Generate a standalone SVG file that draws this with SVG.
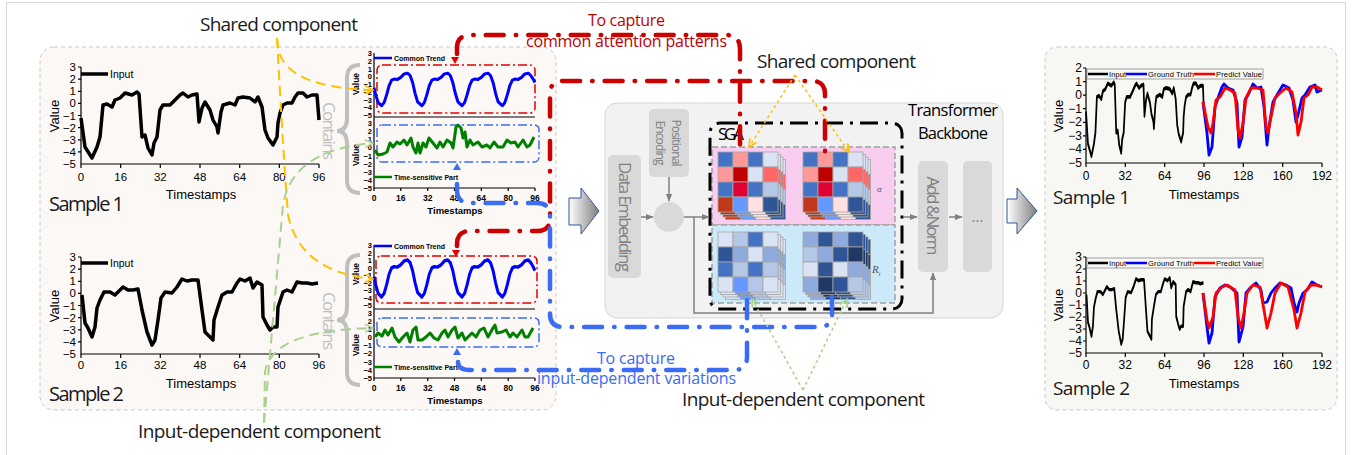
<svg xmlns="http://www.w3.org/2000/svg" xmlns:xlink="http://www.w3.org/1999/xlink" width="1354" height="455" viewBox="0 0 1354 455">
<style>
.lbl{font-family:"Open Sans","Noto Sans",sans-serif}
.ax{font-family:"Liberation Sans",Arial,sans-serif;fill:#000}
.axl{stroke:#000;stroke-width:1.2;fill:none}
.cell{stroke:#a6a6a6;stroke-width:0.8}
.gline{stroke:#808080;stroke-width:1.5;fill:none}
.red{stroke:#cc0000;stroke-width:4.5;fill:none;stroke-dasharray:18 12 0.5 12;stroke-linecap:round}
.blue{stroke:#3a6cf4;stroke-width:4.5;fill:none;stroke-dasharray:18 12 0.5 12;stroke-linecap:round}
.ydash{stroke:#ffc000;stroke-width:2;fill:none;stroke-dasharray:10 6}
.gdash{stroke:#a9d18e;stroke-width:2;fill:none;stroke-dasharray:10 6}
.ydot{stroke:#ffc000;stroke-width:1.5;fill:none;stroke-dasharray:3 3}
.gdot{stroke:#a9d18e;stroke-width:1.5;fill:none;stroke-dasharray:3 3}
.box{fill:#d9d9d9}
.gtxt{fill:#7f7f7f}
</style>
<defs>
<marker id="mg" viewBox="0 0 10 10" refX="9" refY="5" markerWidth="8" markerHeight="8" markerUnits="userSpaceOnUse" orient="auto"><path d="M0,1 L10,5 L0,9 z" fill="#808080"/></marker>
<marker id="my" viewBox="0 0 10 10" refX="9" refY="5" markerWidth="10" markerHeight="10" markerUnits="userSpaceOnUse" orient="auto"><path d="M1,1 L9,5 L1,9" fill="none" stroke="#ffc000" stroke-width="1.6"/></marker>
<marker id="mgr" viewBox="0 0 10 10" refX="9" refY="5" markerWidth="10" markerHeight="10" markerUnits="userSpaceOnUse" orient="auto"><path d="M1,1 L9,5 L1,9" fill="none" stroke="#a9d18e" stroke-width="1.6"/></marker>
<linearGradient id="ga" x1="0" y1="0" x2="1" y2="0"><stop offset="0" stop-color="#ffffff"/><stop offset="1" stop-color="#7f7f7f"/></linearGradient>
<polyline id="inp1" fill="none" stroke="#000" stroke-width="3.5" stroke-linejoin="round" points="81,118 85,147 92,158 97,147 100,137 103,105 107,104 112,107 115,100 120,98 125,93 132,95 137,92 139,94 142,137 145,135 148,148 152,155 154,143 157,137 160,110 163,105 170,105 175,100 180,95 183,93 188,97 192,95 197,94 199,122 202,108 205,102 210,110 213,120 217,127 218,133 221,112 223,105 230,103 235,105 238,98 243,97 250,98 255,102 258,97 262,107 265,130 268,138 273,145 277,137 278,123 280,113 283,105 287,103 292,103 295,97 298,93 303,93 307,97 312,95 317,95 319,120"/>
<polyline id="inp2" fill="none" stroke="#000" stroke-width="3.5" stroke-linejoin="round" points="82,295 85,323 88,328 92,337 95,327 97,308 100,300 104,292 110,292 115,295 118,292 123,287 128,290 133,290 138,289 142,310 147,332 152,345 155,340 158,320 161,298 165,292 172,293 177,287 182,279 187,281 192,280 198,280 202,310 205,332 208,335 213,340 214,320 218,307 222,295 227,292 232,292 237,283 240,279 245,281 250,278 253,288 257,282 262,285 263,317 267,325 270,330 273,327 277,327 278,307 283,292 287,290 292,292 297,282 302,283 307,283 312,284 318,283"/>
<polyline id="ct" fill="none" stroke="#0000ff" stroke-width="3" stroke-linejoin="round" points="374,87.9 375.7,94.9 378.2,102.6 381.5,105.7 384.1,102.6 386.6,94.9 389.1,85.6 391.6,80.1 394.1,79 397.5,79.4 400.8,77.4 404.2,73.9 407.5,73.2 410.1,75.5 412.6,82.5 415.1,93.3 417.6,101.8 421.8,105.7 424.3,102.6 426.8,94.9 429.3,85.6 431.9,80.1 434.4,79 437.7,79.4 441.1,77.4 444.4,73.9 447.8,73.2 450.3,75.5 452.8,82.5 455.3,93.3 457.9,101.8 462,105.7 464.6,102.6 467.1,94.9 469.6,85.6 472.1,80.1 474.6,79 478,79.4 481.3,77.4 484.7,73.9 488,73.2 490.5,75.5 493.1,82.5 495.6,93.3 498.1,101.8 502.3,105.7 504.8,102.6 507.3,94.9 509.8,85.6 512.4,80.1 514.9,79 518.2,79.4 521.6,77.4 524.9,73.9 528.3,73.2 530.8,75.5 533.3,79.4 535,82.5"/>
<g id="m1">
<rect class="cell" x="0" y="0" width="15" height="15" fill="#4472c4"/><rect class="cell" x="15" y="0" width="15" height="15" fill="#ff9999"/><rect class="cell" x="30" y="0" width="15" height="15" fill="#4472c4"/><rect class="cell" x="45" y="0" width="15" height="15" fill="#dae3f3"/>
<rect class="cell" x="0" y="15" width="15" height="15" fill="#ff9999"/><rect class="cell" x="15" y="15" width="15" height="15" fill="#c00000"/><rect class="cell" x="30" y="15" width="15" height="15" fill="#dae3f3"/><rect class="cell" x="45" y="15" width="15" height="15" fill="#ff6666"/>
<rect class="cell" x="0" y="30" width="15" height="15" fill="#4472c4"/><rect class="cell" x="15" y="30" width="15" height="15" fill="#e00034"/><rect class="cell" x="30" y="30" width="15" height="15" fill="#4472c4"/><rect class="cell" x="45" y="30" width="15" height="15" fill="#b4c7e7"/>
<rect class="cell" x="0" y="45" width="15" height="15" fill="#c0391b"/><rect class="cell" x="15" y="45" width="15" height="15" fill="#6699ff"/><rect class="cell" x="30" y="45" width="15" height="15" fill="#ffe1e1"/><rect class="cell" x="45" y="45" width="15" height="15" fill="#2f5597"/>
</g>
<g id="m3">
<rect class="cell" x="0" y="0" width="15" height="15" fill="#dae3f3"/><rect class="cell" x="15" y="0" width="15" height="15" fill="#b4c7e7"/><rect class="cell" x="30" y="0" width="15" height="15" fill="#4472c4"/><rect class="cell" x="45" y="0" width="15" height="15" fill="#dae3f3"/>
<rect class="cell" x="0" y="15" width="15" height="15" fill="#2f5597"/><rect class="cell" x="15" y="15" width="15" height="15" fill="#8faadc"/><rect class="cell" x="30" y="15" width="15" height="15" fill="#dae3f3"/><rect class="cell" x="45" y="15" width="15" height="15" fill="#8faadc"/>
<rect class="cell" x="0" y="30" width="15" height="15" fill="#4472c4"/><rect class="cell" x="15" y="30" width="15" height="15" fill="#b4c7e7"/><rect class="cell" x="30" y="30" width="15" height="15" fill="#4472c4"/><rect class="cell" x="45" y="30" width="15" height="15" fill="#b4c7e7"/>
<rect class="cell" x="0" y="45" width="15" height="15" fill="#dae3f3"/><rect class="cell" x="15" y="45" width="15" height="15" fill="#6699ff"/><rect class="cell" x="30" y="45" width="15" height="15" fill="#b4c7e7"/><rect class="cell" x="45" y="45" width="15" height="15" fill="#dae3f3"/>
</g>
<g id="m4">
<rect class="cell" x="0" y="0" width="15" height="15" fill="#8faadc"/><rect class="cell" x="15" y="0" width="15" height="15" fill="#2f5597"/><rect class="cell" x="30" y="0" width="15" height="15" fill="#8faadc"/><rect class="cell" x="45" y="0" width="15" height="15" fill="#2f5597"/>
<rect class="cell" x="0" y="15" width="15" height="15" fill="#b4c7e7"/><rect class="cell" x="15" y="15" width="15" height="15" fill="#8faadc"/><rect class="cell" x="30" y="15" width="15" height="15" fill="#2f5597"/><rect class="cell" x="45" y="15" width="15" height="15" fill="#1f3864"/>
<rect class="cell" x="0" y="30" width="15" height="15" fill="#dae3f3"/><rect class="cell" x="15" y="30" width="15" height="15" fill="#2f5597"/><rect class="cell" x="30" y="30" width="15" height="15" fill="#dae3f3"/><rect class="cell" x="45" y="30" width="15" height="15" fill="#8faadc"/>
<rect class="cell" x="0" y="45" width="15" height="15" fill="#8faadc"/><rect class="cell" x="15" y="45" width="15" height="15" fill="#1f3864"/><rect class="cell" x="30" y="45" width="15" height="15" fill="#2f5597"/><rect class="cell" x="45" y="45" width="15" height="15" fill="#b4c7e7"/>
</g>
</defs>

<rect width="1354" height="455" fill="#ffffff"/>
<path d="M6.5,460 V2.5 H1345.5 V460" fill="none" stroke="#d9d9d9" stroke-width="1"/>

<!-- left panel -->
<g id="panel-left">
<rect x="40" y="47" width="516" height="363" rx="14" fill="#fcf8f6" stroke="#c8c8c8" stroke-width="1" stroke-dasharray="4 3"/>
</g>

<!-- left chart 1 -->
<g id="chart-sample1-input">
<path class="axl" d="M81,67 V164 H319"/>
<path class="axl" d="M78,67H81M78,79.1H81M78,91.3H81M78,103.4H81M78,115.5H81M78,127.6H81M78,139.8H81M78,151.9H81M81,164V168M120.7,164V168M160.3,164V168M200,164V168M239.7,164V168M279.3,164V168M319,164V168"/>
<g class="ax" font-size="11.5" text-anchor="end">
<text x="76" y="71">3</text><text x="76" y="83.1">2</text><text x="76" y="95.3">1</text><text x="76" y="107.4">0</text><text x="76" y="119.5">−1</text><text x="76" y="131.6">−2</text><text x="76" y="143.8">−3</text><text x="76" y="155.9">−4</text><text x="76" y="168">−5</text>
</g>
<g class="ax" font-size="11.5" text-anchor="middle">
<text x="81" y="181">0</text><text x="120.7" y="181">16</text><text x="160.3" y="181">32</text><text x="200" y="181">48</text><text x="239.7" y="181">64</text><text x="279.3" y="181">80</text><text x="319" y="181">96</text>
<text x="201" y="199" font-size="13">Timestamps</text>
<text transform="translate(58.5,116) rotate(-90)" font-size="13">Value</text>
</g>
<line x1="81" y1="74" x2="108" y2="74" stroke="#000" stroke-width="3.5"/>
<text class="ax" x="110" y="78" font-size="10.5">Input</text>
<use xlink:href="#inp1"/>
</g>

<!-- left chart 2 -->
<g id="chart-sample2-input">
<path class="axl" d="M81,257 V354 H319"/>
<path class="axl" d="M78,257H81M78,269.1H81M78,281.3H81M78,293.4H81M78,305.5H81M78,317.6H81M78,329.8H81M78,341.9H81M81,354V358M120.7,354V358M160.3,354V358M200,354V358M239.7,354V358M279.3,354V358M319,354V358"/>
<g class="ax" font-size="11.5" text-anchor="end">
<text x="76" y="261">3</text><text x="76" y="273.1">2</text><text x="76" y="285.3">1</text><text x="76" y="297.4">0</text><text x="76" y="309.5">−1</text><text x="76" y="321.6">−2</text><text x="76" y="333.8">−3</text><text x="76" y="345.9">−4</text><text x="76" y="358">−5</text>
</g>
<g class="ax" font-size="11.5" text-anchor="middle">
<text x="81" y="369">0</text><text x="120.7" y="369">16</text><text x="160.3" y="369">32</text><text x="200" y="369">48</text><text x="239.7" y="369">64</text><text x="279.3" y="369">80</text><text x="319" y="369">96</text>
<text x="201" y="388" font-size="13">Timestamps</text>
<text transform="translate(58.5,306) rotate(-90)" font-size="13">Value</text>
</g>
<line x1="81" y1="263" x2="108" y2="263" stroke="#000" stroke-width="3.5"/>
<text class="ax" x="110" y="267" font-size="10.5">Input</text>
<use xlink:href="#inp2"/>
</g>

<!-- middle chart 1 -->
<g id="chart-decomp1">
<path class="axl" d="M374,53 V188 H535 M374,117 H535"/>
<path class="axl" d="M374,188V191M400.8,188V191M427.7,188V191M454.5,188V191M481.3,188V191M508.2,188V191M535,188V191"/>
<g class="ax" font-size="7.5" font-weight="bold" text-anchor="end">
<text x="372" y="56">3</text><text x="372" y="63.8">2</text><text x="372" y="71.5">1</text><text x="372" y="79.3">0</text><text x="372" y="87">−1</text><text x="372" y="94.8">−2</text><text x="372" y="102.5">−3</text><text x="372" y="110.3">−4</text><text x="372" y="117.5">−5</text>
<text x="372" y="126">3</text><text x="372" y="134.1">2</text><text x="372" y="142.3">1</text><text x="372" y="150.4">0</text><text x="372" y="158.5">−1</text><text x="372" y="166.6">−2</text><text x="372" y="174.8">−3</text><text x="372" y="182.9">−4</text><text x="372" y="191">−5</text>
</g>
<g class="ax" font-size="8.5" font-weight="bold" text-anchor="middle">
<text x="374" y="201">0</text><text x="400.8" y="201">16</text><text x="427.7" y="201">32</text><text x="454.5" y="201">48</text><text x="481.3" y="201">64</text><text x="508.2" y="201">80</text><text x="535" y="201">96</text>
<text x="455" y="214" font-size="9.5">Timestamps</text>
<text transform="translate(359,84) rotate(-90)" font-size="8.5">Value</text>
<text transform="translate(359,155) rotate(-90)" font-size="8.5">Value</text>
</g>
<line x1="374" y1="58" x2="392" y2="58" stroke="#0000ff" stroke-width="2.5"/>
<text class="ax" x="394" y="60.5" font-size="7" font-weight="bold" textLength="51">Common Trend</text>
<line x1="374" y1="177" x2="392" y2="177" stroke="#008000" stroke-width="2.5"/>
<text class="ax" x="394" y="179.5" font-size="7" font-weight="bold" textLength="64">Time-sensitive Part</text>
<rect x="377" y="65" width="158" height="48" rx="5" fill="none" stroke="#dd0000" stroke-width="1.5" stroke-dasharray="9 3 2 3"/>
<rect x="377" y="125" width="162" height="37" rx="5" fill="none" stroke="#3a6cf4" stroke-width="1.5" stroke-dasharray="9 3 2 3"/>
<polygon points="451,57 459,57 455,64" fill="#dd0000"/>
<polygon points="453,170 461,170 457,163" fill="#3a6cf4"/>
<use xlink:href="#ct"/>
<polyline fill="none" stroke="#008000" stroke-width="3" stroke-linejoin="round" points="375,150 378,155 383,154 387,152 390,143 393,147 397,142 400,144 404,140 407,145 411,138 413,147 416,153 418,143 420,153 423,143 426,147 429,138 433,143 437,148 440,142 443,147 447,140 451,143 453,148 456,127 458,125 461,128 463,138 465,132 467,147 470,140 473,145 478,142 482,147 487,145 490,148 494,142 498,147 503,147 507,140 511,143 515,142 518,147 523,140 527,147 530,145 534,137"/>
</g>

<!-- middle chart 2 -->
<g id="chart-decomp2">
<path class="axl" d="M374,245 V378 H535 M374,309 H535"/>
<path class="axl" d="M374,378V381M400.8,378V381M427.7,378V381M454.5,378V381M481.3,378V381M508.2,378V381M535,378V381"/>
<g class="ax" font-size="7.5" font-weight="bold" text-anchor="end">
<text x="372" y="248">3</text><text x="372" y="255.5">2</text><text x="372" y="263">1</text><text x="372" y="270.5">0</text><text x="372" y="278">−1</text><text x="372" y="285.5">−2</text><text x="372" y="293">−3</text><text x="372" y="300.5">−4</text><text x="372" y="307.5">−5</text>
<text x="372" y="316">3</text><text x="372" y="324">2</text><text x="372" y="332">1</text><text x="372" y="340">0</text><text x="372" y="348">−1</text><text x="372" y="356">−2</text><text x="372" y="364.5">−3</text><text x="372" y="372.8">−4</text><text x="372" y="381">−5</text>
</g>
<g class="ax" font-size="8.5" font-weight="bold" text-anchor="middle">
<text x="374" y="391">0</text><text x="400.8" y="391">16</text><text x="427.7" y="391">32</text><text x="454.5" y="391">48</text><text x="481.3" y="391">64</text><text x="508.2" y="391">80</text><text x="535" y="391">96</text>
<text x="455" y="404" font-size="9.5">Timestamps</text>
<text transform="translate(359,274) rotate(-90)" font-size="8.5">Value</text>
<text transform="translate(359,345) rotate(-90)" font-size="8.5">Value</text>
</g>
<line x1="374" y1="246" x2="392" y2="246" stroke="#0000ff" stroke-width="2.5"/>
<text class="ax" x="394" y="248.5" font-size="7" font-weight="bold" textLength="51">Common Trend</text>
<line x1="374" y1="367" x2="392" y2="367" stroke="#008000" stroke-width="2.5"/>
<text class="ax" x="394" y="369.5" font-size="7" font-weight="bold" textLength="64">Time-sensitive Part</text>
<rect x="376" y="256" width="161" height="47" rx="5" fill="none" stroke="#dd0000" stroke-width="1.5" stroke-dasharray="9 3 2 3"/>
<rect x="377" y="318" width="162" height="29" rx="5" fill="none" stroke="#3a6cf4" stroke-width="1.5" stroke-dasharray="9 3 2 3"/>
<polygon points="452,250 460,250 456,257" fill="#dd0000"/>
<polygon points="453,355 461,355 457,348" fill="#3a6cf4"/>
<use xlink:href="#ct" transform="matrix(1,0,0,1.137,0,176.8)" style="vector-effect:non-scaling-stroke"/>
<polyline fill="none" stroke="#008000" stroke-width="3" stroke-linejoin="round" points="375,337 378,333 382,336 385,330 388,335 392,328 395,337 399,342 403,337 407,333 410,342 413,330 416,327 418,340 422,340 426,337 430,333 434,338 438,340 442,333 445,330 448,337 452,330 455,327 458,338 462,333 465,340 468,337 472,333 476,337 480,330 484,328 488,337 493,328 495,325 497,333 502,332 506,330 510,337 513,333 517,337 522,330 525,337 528,337 533,328"/>
</g>

<!-- braces -->
<g id="contains-1">
<path d="M360,65 Q347,65 347,78 V118 Q347,131 337,131 Q347,131 347,144 V180 Q347,193 360,193" fill="none" stroke="#bfbfbf" stroke-width="4"/>
<text class="lbl" transform="translate(323,131) rotate(90)" font-size="17" fill="#bfbfbf" text-anchor="middle" textLength="58">Contains</text>
</g>
<g id="contains-2">
<path d="M360,255 Q347,255 347,268 V307 Q347,320 337,320 Q347,320 347,333 V372 Q347,385 360,385" fill="none" stroke="#bfbfbf" stroke-width="4"/>
<text class="lbl" transform="translate(323,321) rotate(90)" font-size="17" fill="#bfbfbf" text-anchor="middle" textLength="58">Contains</text>
</g>

<!-- transformer backbone -->
<g id="transformer-backbone">
<rect x="605" y="103" width="398" height="215" rx="12" fill="#f2f2f2" stroke="#d6d6d6" stroke-width="1"/>
<text class="lbl" x="908" y="116" font-size="16.5" fill="#000" textLength="90">Transformer</text>
<text class="lbl" x="918" y="139" font-size="16.5" fill="#000" textLength="70">Backbone</text>
</g>
<g id="data-embedding">
<rect class="box" x="608" y="155" width="33" height="123" rx="5"/>
<text class="lbl gtxt" transform="translate(619,217) rotate(90)" font-size="17" text-anchor="middle" textLength="110">Data Embedding</text>
</g>
<g id="positional-encoding">
<rect class="box" x="649" y="109" width="40" height="68" rx="5"/>
<text class="lbl gtxt" transform="translate(672,143) rotate(90)" font-size="12" text-anchor="middle" textLength="47">Positional</text>
<text class="lbl gtxt" transform="translate(656,143) rotate(90)" font-size="12" text-anchor="middle" textLength="45">Encoding</text>
</g>
<g id="sum-node">
<circle cx="669" cy="217" r="15" fill="#d9d9d9"/>
</g>
<g id="sga">
<rect x="712" y="147" width="183" height="78" fill="#f8cdef" stroke="#a0a0a0" stroke-width="1.5" stroke-dasharray="6 3"/>
<rect x="712" y="225" width="183" height="78" fill="#cce9f9" stroke="#a0a0a0" stroke-width="1.5" stroke-dasharray="6 3"/>
<use xlink:href="#m1" x="725.5" y="159.5"/><use xlink:href="#m1" x="723" y="157"/><use xlink:href="#m1" x="720.5" y="154.5"/><use xlink:href="#m1" x="718" y="152"/>
<use xlink:href="#m1" x="810.5" y="159.5"/><use xlink:href="#m1" x="808" y="157"/><use xlink:href="#m1" x="805.5" y="154.5"/><use xlink:href="#m1" x="803" y="152"/>
<use xlink:href="#m3" x="725.5" y="239.5"/><use xlink:href="#m3" x="723" y="237"/><use xlink:href="#m3" x="720.5" y="234.5"/><use xlink:href="#m3" x="718" y="232"/>
<use xlink:href="#m4" x="810.5" y="239.5"/><use xlink:href="#m4" x="808" y="237"/><use xlink:href="#m4" x="805.5" y="234.5"/><use xlink:href="#m4" x="803" y="232"/>
<text x="877" y="192" font-family="'Liberation Serif',serif" font-style="italic" font-size="9" fill="#555">α</text>
<text x="872" y="273" font-family="'Liberation Serif',serif" font-style="italic" font-size="11" fill="#555">R<tspan font-size="6" dy="3">t</tspan></text>
<rect x="710" y="123" width="192" height="186" rx="10" fill="none" stroke="#000" stroke-width="3" stroke-dasharray="18 7 3 7"/>
<text class="lbl" x="718" y="140" font-size="17" fill="#000" textLength="26">SGA</text>
</g>
<g id="add-norm">
<rect class="box" x="918" y="161" width="30" height="111" rx="5"/>
<text class="lbl gtxt" transform="translate(927,216) rotate(90)" font-size="17" text-anchor="middle" textLength="79">Add &amp;Norm</text>
</g>
<g id="more-layers">
<rect class="box" x="963" y="161" width="29" height="111" rx="5"/>
<text class="lbl gtxt" x="977.5" y="222" font-size="15" text-anchor="middle">...</text>
</g>

<!-- right panel -->
<g id="panel-right">
<rect x="1045" y="47" width="292" height="363" rx="12" fill="#f7f8f4" stroke="#c8c8c8" stroke-width="1" stroke-dasharray="4 3"/>
</g>
<g id="chart-forecast1">
<path class="axl" d="M1086,68 V163 H1322"/>
<path class="axl" d="M1083,68H1086M1083,81.6H1086M1083,95.1H1086M1083,108.7H1086M1083,122.3H1086M1083,135.9H1086M1083,149.4H1086M1086,163V167M1125.3,163V167M1164.7,163V167M1204,163V167M1243.3,163V167M1282.7,163V167M1322,163V167"/>
<g class="ax" font-size="12" text-anchor="end">
<text x="1082" y="72">2</text><text x="1082" y="85.6">1</text><text x="1082" y="99.1">0</text><text x="1082" y="112.7">−1</text><text x="1082" y="126.3">−2</text><text x="1082" y="139.9">−3</text><text x="1082" y="153.4">−4</text><text x="1082" y="167">−5</text>
</g>
<g class="ax" font-size="12" text-anchor="middle">
<text x="1086" y="180">0</text><text x="1125.3" y="180">32</text><text x="1164.7" y="180">64</text><text x="1204" y="180">96</text><text x="1243.3" y="180">128</text><text x="1282.7" y="180">160</text><text x="1322" y="180">192</text>
<text x="1204" y="199" font-size="13">Timestamps</text>
<text transform="translate(1062.5,116) rotate(-90)" font-size="13">Value</text>
</g>
<use xlink:href="#inp1" transform="matrix(0.4956,0,0,1.119,1045.86,-20.6)" style="vector-effect:non-scaling-stroke"/>
<polyline fill="none" stroke="#0000ff" stroke-width="2.8" stroke-linejoin="round" points="1203,102 1207,133 1209,155 1212,147 1215,107 1218,98 1222,87 1224,84 1228,88 1233,90 1237,103 1239,147 1242,137 1245,100 1248,95 1253,84 1257,88 1261,87 1264,107 1267,145 1269,127 1273,102 1277,95 1283,85 1289,88 1293,100 1296,122 1298,115 1302,98 1305,95 1310,87 1315,85 1317,92 1322,90"/>
<polyline fill="none" stroke="#ff0000" stroke-width="2.8" stroke-linejoin="round" points="1203,102 1208,127 1211,133 1213,123 1216,100 1220,97 1225,88 1230,90 1235,93 1238,130 1240,138 1243,123 1246,98 1251,88 1257,88 1263,90 1266,127 1268,133 1271,117 1275,98 1280,93 1286,88 1292,92 1296,113 1298,135 1301,122 1304,98 1308,95 1312,87 1317,87 1322,90"/>
<rect x="1087" y="69" width="176" height="10" fill="#f7f8f4" stroke="#8c8c8c" stroke-width="0.8"/>
<line x1="1088" y1="74" x2="1108" y2="74" stroke="#000" stroke-width="2.5"/>
<line x1="1126" y1="74" x2="1147" y2="74" stroke="#0000ff" stroke-width="2.5"/>
<line x1="1194" y1="74" x2="1215" y2="74" stroke="#ff0000" stroke-width="2.5"/>
<g class="ax" font-size="7.5"><text x="1109" y="76.7" textLength="17">Input</text><text x="1148" y="76.7" textLength="46">Ground Truth</text><text x="1216" y="76.7" textLength="46">Predict Value</text></g>
</g>
<g id="chart-forecast2">
<path class="axl" d="M1086,257 V353 H1322"/>
<path class="axl" d="M1083,257H1086M1083,269H1086M1083,281H1086M1083,293H1086M1083,305H1086M1083,317H1086M1083,329H1086M1083,341H1086M1086,353V357M1125.3,353V357M1164.7,353V357M1204,353V357M1243.3,353V357M1282.7,353V357M1322,353V357"/>
<g class="ax" font-size="12" text-anchor="end">
<text x="1082" y="261">3</text><text x="1082" y="273">2</text><text x="1082" y="285">1</text><text x="1082" y="297">0</text><text x="1082" y="309">−1</text><text x="1082" y="321">−2</text><text x="1082" y="333">−3</text><text x="1082" y="345">−4</text><text x="1082" y="357">−5</text>
</g>
<g class="ax" font-size="12" text-anchor="middle">
<text x="1086" y="369">0</text><text x="1125.3" y="369">32</text><text x="1164.7" y="369">64</text><text x="1204" y="369">96</text><text x="1243.3" y="369">128</text><text x="1282.7" y="369">160</text><text x="1322" y="369">192</text>
<text x="1204" y="388" font-size="13">Timestamps</text>
<text transform="translate(1062.5,305) rotate(-90)" font-size="13">Value</text>
</g>
<use xlink:href="#inp2" transform="matrix(0.4956,0,0,0.9897,1045.86,2.62)" style="vector-effect:non-scaling-stroke"/>
<polyline fill="none" stroke="#0000ff" stroke-width="2.8" stroke-linejoin="round" points="1203,293 1207,327 1209,343 1212,333 1215,297 1220,288 1225,285 1230,287 1237,293 1239,342 1243,327 1246,293 1251,287 1256,283 1261,290 1263,303 1267,302 1271,293 1275,288 1280,283 1286,285 1291,288 1294,303 1297,312 1299,303 1303,293 1307,290 1312,282 1317,285 1322,287"/>
<polyline fill="none" stroke="#ff0000" stroke-width="2.8" stroke-linejoin="round" points="1203,293 1207,320 1209,328 1213,317 1216,293 1222,287 1227,285 1235,290 1238,317 1241,328 1244,313 1247,293 1253,285 1260,287 1264,310 1267,328 1271,313 1275,293 1281,283 1288,287 1294,310 1297,328 1301,313 1305,292 1311,285 1317,285 1322,287"/>
<rect x="1087" y="258" width="176" height="10" fill="#f7f8f4" stroke="#8c8c8c" stroke-width="0.8"/>
<line x1="1088" y1="263" x2="1108" y2="263" stroke="#000" stroke-width="2.5"/>
<line x1="1126" y1="263" x2="1147" y2="263" stroke="#0000ff" stroke-width="2.5"/>
<line x1="1194" y1="263" x2="1215" y2="263" stroke="#ff0000" stroke-width="2.5"/>
<g class="ax" font-size="7.5"><text x="1109" y="265.7" textLength="17">Input</text><text x="1148" y="265.7" textLength="46">Ground Truth</text><text x="1216" y="265.7" textLength="46">Predict Value</text></g>
</g>

<!-- block arrows -->
<g id="arrow-in">
<path d="M569,198 H581 V188 L599,211 L581,234 V225 H569 Z" fill="url(#ga)" stroke="#2f5597" stroke-width="1"/>
</g>
<g id="arrow-out">
<path d="M1007,199 H1017 V188 L1037,211 L1017,234 V223 H1007 Z" fill="url(#ga)" stroke="#2f5597" stroke-width="1"/>
</g>

<!-- connectors -->
<g id="connectors">
<path class="gline" d="M669,177 V201" marker-end="url(#mg)"/>
<path class="gline" d="M641,217 H653" marker-end="url(#mg)"/>
<path class="gline" d="M684,217 H709" marker-end="url(#mg)"/>
<path class="gline" d="M694,217 V313 H933 V273" marker-end="url(#mg)"/>
<path class="gline" d="M903,217 H917" marker-end="url(#mg)"/>
<path class="gline" d="M949,217 H962" marker-end="url(#mg)"/>

<path class="ydash" d="M277,38 Q278,48 279,52 Q290,88 373,90" marker-end="url(#my)"/>
<path class="ydash" d="M277,38 Q283,150 288,215 Q300,272 373,279" marker-end="url(#my)"/>
<path class="gdash" d="M264,423 L283,205 Q292,150 373,143" marker-end="url(#mgr)"/>
<path class="gdash" d="M264,423 L265,372 Q272,330 373,328" marker-end="url(#mgr)"/>

<path class="red" d="M457,54 V48 Q457,35 471,35 H726 Q740,35 740,49 V152"/>
<path class="red" d="M457,246 V244 Q457,231 470,231 H537 Q550,231 550,218 V94 Q550,81 563,81 H812 Q825,81 825,94 V152"/>
<path class="blue" d="M457,184 V190 Q457,203 470,203 H537 Q550,203 550,216 V314 Q550,327 563,327 H819 Q832,327 832,314 V297"/>
<path class="blue" d="M458,362 Q458,370 470,370 H734 Q747,370 747,357 V297"/>

<path class="ydot" d="M795,75 L749,147" marker-end="url(#my)"/>
<path class="ydot" d="M795,75 L849,152" marker-end="url(#my)"/>
<path class="gdot" d="M803,390 L752,299" marker-end="url(#mgr)"/>
<path class="gdot" d="M803,390 L847,299" marker-end="url(#mgr)"/>
</g>

<!-- labels -->
<g id="labels">
<text class="lbl" x="200" y="31" font-size="19" fill="#1a1a1a" textLength="158">Shared component</text>
<text class="lbl" x="757" y="68" font-size="19" fill="#1a1a1a" textLength="159">Shared component</text>
<text class="lbl" x="588" y="26" font-size="16" fill="#c00000" textLength="77">To capture</text>
<text class="lbl" x="526" y="47" font-size="16" fill="#c00000" textLength="201">common attention patterns</text>
<text class="lbl" x="597" y="364" font-size="16" fill="#3a6cf4" textLength="78">To capture</text>
<text class="lbl" x="537" y="384" font-size="16" fill="#3a6cf4" textLength="199">input-dependent variations</text>
<text class="lbl" x="682" y="406" font-size="19" fill="#1a1a1a" textLength="243">Input-dependent component</text>
<text class="lbl" x="138" y="438" font-size="19" fill="#1a1a1a" textLength="243">Input-dependent component</text>
<text class="lbl" x="49" y="211" font-size="20" fill="#1a1a1a" textLength="75">Sample 1</text>
<text class="lbl" x="49" y="401" font-size="20" fill="#1a1a1a" textLength="75">Sample 2</text>
<text class="lbl" x="1053" y="204" font-size="19" fill="#1a1a1a" textLength="77">Sample 1</text>
<text class="lbl" x="1053" y="395" font-size="19" fill="#1a1a1a" textLength="77">Sample 2</text>
</g>
</svg>
